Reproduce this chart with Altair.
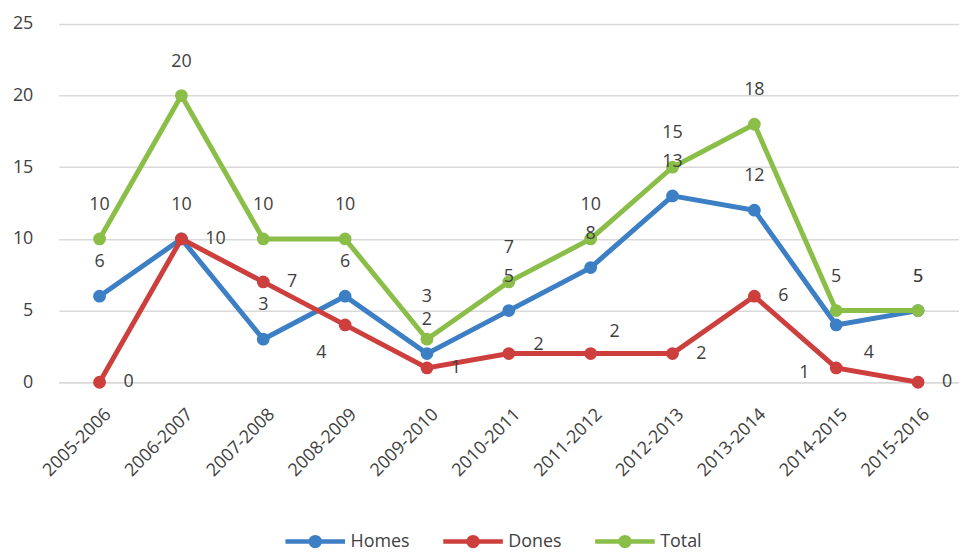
import altair as alt
import pandas as pd

years = ["2005-2006", "2006-2007", "2007-2008", "2008-2009", "2009-2010", "2010-2011",
         "2011-2012", "2012-2013", "2013-2014", "2014-2015", "2015-2016"]
homes = [6, 10, 3, 6, 2, 5, 8, 13, 12, 4, 5]
dones = [0, 10, 7, 4, 1, 2, 2, 2, 6, 1, 0]
total = [10, 20, 10, 10, 3, 7, 10, 15, 18, 5, 5]
series = ["Homes", "Dones", "Total"]
colors = ["#3C7FC5", "#CD3F3D", "#8BBE48"]

# label nudges (pixel offsets) for a few crowded data labels
label_nudge = {
    ("Dones", "2008-2009"): (-24, 28),
    ("Dones", "2010-2011"): (30, -9),
    ("Dones", "2011-2012"): (24, -22),
    ("Dones", "2014-2015"): (-32, 5),
    ("Homes", "2014-2015"): (33, 28),
    ("Total", "2009-2010"): (0, -43),
}

rows = []
for name, vals in zip(series, [homes, dones, total]):
    for y, v in zip(years, vals):
        rows.append({"year": y, "value": v, "series": name,
                     "nudged": (name, y) in label_nudge})
df = pd.DataFrame(rows)

FONT = "Open Sans"
TXT = "#404040"

x = alt.X("year:N", sort=years, title=None,
          scale=alt.Scale(type="point", padding=0.5),
          axis=alt.Axis(labelAngle=-45, labelFontSize=18, labelColor=TXT, labelFont=FONT,
                        ticks=False, domain=True, domainColor="#d9d9d9", domainWidth=1.5,
                        labelPadding=23, labelOffset=2))
y = alt.Y("value:Q", title=None,
          scale=alt.Scale(domain=[0, 25], nice=False),
          axis=alt.Axis(values=[0, 5, 10, 15, 20, 25], labelFontSize=18, labelColor=TXT,
                        labelFont=FONT, ticks=False, domain=False, gridColor="#d9d9d9",
                        gridWidth=1.5, labelPadding=26))
color = alt.Color("series:N", sort=series,
                  scale=alt.Scale(domain=series, range=colors),
                  legend=alt.Legend(title=None, orient="none", direction="horizontal",
                                    legendX=241, legendY=504,
                                    symbolType="M-2,0L2,0M-0.3,0A0.3,0.3,0,1,1,0.3,0A0.3,0.3,0,1,1,-0.3,0",
                                    symbolSize=900, symbolStrokeWidth=4.5,
                                    labelFontSize=18, labelColor=TXT, labelFont=FONT,
                                    columnPadding=24, labelOffset=18, padding=0))

base = alt.Chart(df)

layers = []
for name in series:
    sub = base.transform_filter(alt.datum.series == name)
    layers.append(sub.mark_line(strokeWidth=5).encode(x=x, y=y, color=color))
    layers.append(sub.mark_circle(size=165, opacity=1).encode(x=x, y=y, color=color))


def labels(name, dx, dy, align="center"):
    return base.transform_filter(
        (alt.datum.series == name) & (alt.datum.nudged == False)
    ).mark_text(dx=dx, dy=dy, fontSize=18, font=FONT, color=TXT, align=align).encode(
        x=x, y=y, text="value:Q")


layers.append(labels("Homes", 0, -34))
layers.append(labels("Dones", 24, 0, align="left"))
layers.append(labels("Total", 0, -34))

for (name, yr), (ddx, ddy) in label_nudge.items():
    layers.append(
        base.transform_filter((alt.datum.series == name) & (alt.datum.year == yr))
        .mark_text(dx=ddx, dy=ddy, fontSize=18, font=FONT, color=TXT)
        .encode(x=x, y=y, text="value:Q")
    )

chart = alt.layer(*layers).properties(
    width=907, height=361,
    autosize=alt.AutoSizeParams(type="none"),
    padding={"left": 51, "top": 14, "right": 0, "bottom": 170},
    background="white",
).configure_view(stroke=None)

chart.save("out.html", embed_options={"renderer": "svg", "actions": False})
